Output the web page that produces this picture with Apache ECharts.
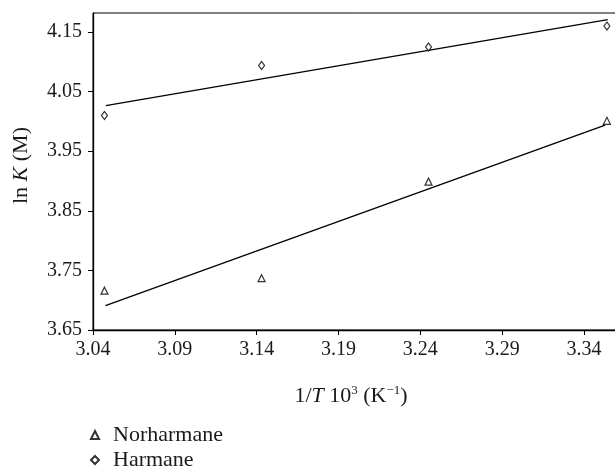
<!DOCTYPE html>
<html>
<head>
<meta charset="utf-8">
<script src="https://cdn.jsdelivr.net/npm/echarts@6/dist/echarts.min.js"></script>
<style>html,body{margin:0;padding:0;background:#fff}#c{width:615px;height:466px}</style>
</head>
<body>
<div id="c"></div>
<script>
// data
var invT = [3.047, 3.143, 3.245, 3.354];
var norharmane = [3.716, 3.737, 3.899, 4.001];
var harmane = [4.010, 4.094, 4.125, 4.160];
// fitted lines (endpoints)
var norFitX = [3.0476, 3.3529];
var norFitY = [3.6908, 3.994];
var harFitX = [3.0478, 3.3545];
var harFitY = [4.0265, 4.1708];
var xTicks = [3.04, 3.09, 3.14, 3.19, 3.24, 3.29, 3.34];
var yTicks = [3.65, 3.75, 3.85, 3.95, 4.05, 4.15];
var seriesNames = ['Norharmane', 'Harmane'];

function pairs(xs, ys) { return xs.map(function (x, i) { return [x, ys[i]]; }); }

var FONT = 'Liberation Serif';
var TXT = '#1a1a1a';
var rich = {
  n: { fontFamily: FONT, fontSize: 22, color: TXT, lineHeight: 24 },
  i: { fontFamily: FONT, fontSize: 22, color: TXT, fontStyle: 'italic', lineHeight: 24 },
  s: { fontFamily: FONT, fontSize: 13, color: TXT, verticalAlign: 'top', lineHeight: 13 }
};
function legendAt(name, top) {
  return {
    orient: 'vertical', left: 90, top: top, padding: 0, itemWidth: 8, itemHeight: 8,
    data: [name],
    textStyle: { fontFamily: FONT, fontSize: 22, color: TXT, lineHeight: 14, padding: [0, 0, 0, 9] }
  };
}

var chart = echarts.init(document.getElementById('c'), null, { renderer: 'canvas' });
chart.setOption({
  animation: false,
  backgroundColor: '#fff',
  grid: { left: 93, top: 13, right: -6, bottom: 136, outerBoundsMode: 'none', containLabel: false,
    show: true, borderColor: '#000', borderWidth: 1, backgroundColor: 'transparent' },
  legend: [legendAt(seriesNames[0], 424), legendAt(seriesNames[1], 449)],
  xAxis: {
    type: 'value', min: 3.04, max: 3.3626,
    axisLine: { lineStyle: { color: '#000', width: 1.3 } },
    axisTick: { show: true, length: 5, lineStyle: { color: '#000' }, customValues: xTicks },
    axisLabel: { customValues: xTicks, fontFamily: FONT, fontSize: 20, color: TXT, margin: 10,
      formatter: function (v) { return v.toFixed(2); } },
    splitLine: { show: false },
    name: '{n|1/}{i|T}{n| 10}{s|3}{n| (K}{s|−1}{n|)}',
    nameLocation: 'middle', nameGap: 54,
    nameTextStyle: { rich: rich, padding: [0, 12, 0, 0] }
  },
  yAxis: {
    type: 'value', min: 3.65, max: 4.182,
    axisLine: { show: true, lineStyle: { color: '#000', width: 1.3 } },
    axisTick: { show: true, length: 5, lineStyle: { color: '#000' }, customValues: yTicks },
    axisLabel: { customValues: yTicks, fontFamily: FONT, fontSize: 20, color: TXT, margin: 11,
      formatter: function (v) { return v.toFixed(2); } },
    splitLine: { show: false },
    name: '{n|ln }{i|K}{n| (M)}',
    nameLocation: 'middle', nameGap: 60,
    nameTextStyle: { rich: rich, padding: [0, 0, 0, 12] }
  },
  series: [
    { name: seriesNames[0], type: 'scatter', symbol: 'triangle', symbolSize: 7,
      itemStyle: { color: '#fff', borderColor: '#000', borderWidth: 1.2 },
      data: pairs(invT, norharmane), z: 3 },
    { name: seriesNames[1], type: 'scatter', symbol: 'diamond', symbolSize: [6, 8],
      itemStyle: { color: '#fff', borderColor: '#000', borderWidth: 1.2 },
      data: pairs(invT, harmane), z: 3 },
    { name: 'fitN', type: 'line', symbol: 'none', silent: true,
      lineStyle: { color: '#000', width: 1.3 }, data: pairs(norFitX, norFitY) },
    { name: 'fitH', type: 'line', symbol: 'none', silent: true,
      lineStyle: { color: '#000', width: 1.3 }, data: pairs(harFitX, harFitY) }
  ]
});
</script>
</body>
</html>
